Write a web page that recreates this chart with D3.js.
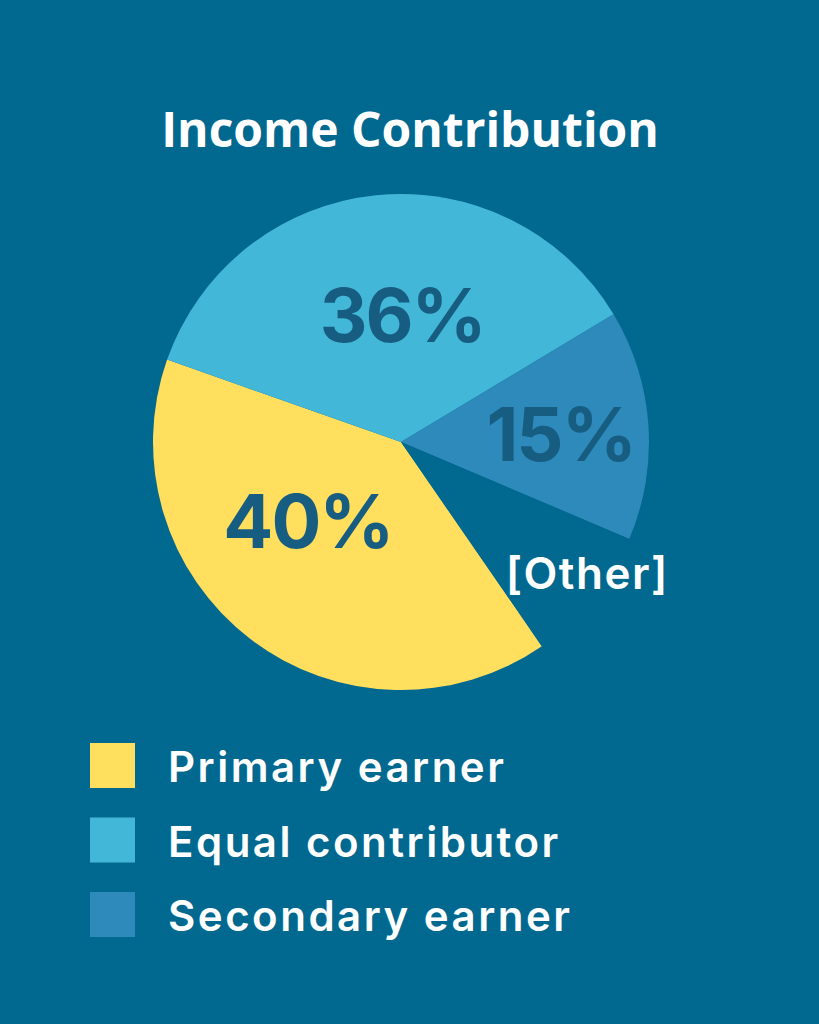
<!DOCTYPE html>
<html>
<head>
<meta charset="utf-8">
<script src="https://cdn.jsdelivr.net/npm/d3@7"></script>
<style>
  html, body { margin: 0; padding: 0; background: #01688f; }
  svg { display: block; }
</style>
</head>
<body>
<div id="chart"></div>
<script>
// data
var categories = ["Primary earner", "Equal contributor", "Secondary earner", "Other"];
var values = [40, 36, 15, 9];
var valueLabels = ["40%", "36%", "15%", "[Other]"];
var legendItems = ["Primary earner", "Equal contributor", "Secondary earner"];
var sliceColors = ["#ffdf5d", "#42b7d7", "#2e8aba", "#01688f"];

var width = 819, height = 1024;
var bg = "#01688f";
var cx = 401, cy = 442, radius = 248;
var startDeg = 145.4;
// small nudges to place each label like the original
var labelRadius = [122, 127, 160, 230];
var labelNudge = [[-19, -18], [14, 0], [0, 4], [8, -14]];

var svg = d3.select("#chart").append("svg")
    .attr("width", width)
    .attr("height", height);

svg.append("rect")
    .attr("width", width)
    .attr("height", height)
    .attr("fill", bg);

svg.append("text")
    .attr("x", 410)
    .attr("y", 147)
    .attr("text-anchor", "middle")
    .attr("fill", "#ffffff")
    .style("font-family", "'Open Sans', sans-serif")
    .style("font-weight", 700)
    .style("font-size", "48px")
    .text("Income Contribution");

var color = d3.scaleOrdinal().domain(categories).range(sliceColors);

var start = startDeg * Math.PI / 180;
var pie = d3.pie()
    .sort(null)
    .value(function(d) { return d; })
    .startAngle(start)
    .endAngle(start + 2 * Math.PI);

var arcs = pie(values);
var arc = d3.arc().innerRadius(0).outerRadius(radius);

var g = svg.append("g")
    .attr("transform", "translate(" + cx + "," + cy + ")");

g.selectAll("path.slice")
    .data(arcs)
    .enter().append("path")
    .attr("class", "slice")
    .attr("d", arc)
    .attr("fill", function(d, i) { return color(categories[i]); });

g.selectAll("text.val")
    .data(arcs)
    .enter().append("text")
    .attr("class", "val")
    .attr("transform", function(d, i) {
        var la = d3.arc().innerRadius(labelRadius[i]).outerRadius(labelRadius[i]);
        var c = la.centroid(d);
        return "translate(" + (c[0] + labelNudge[i][0]) + "," + (c[1] + labelNudge[i][1]) + ")";
    })
    .attr("dy", "0.36em")
    .attr("text-anchor", "middle")
    .attr("fill", function(d, i) { return i === 3 ? "#ffffff" : "#175d82"; })
    .style("font-family", "Inter, sans-serif")
    .style("font-weight", function(d, i) { return i === 3 ? 600 : 700; })
    .style("font-size", function(d, i) { return i === 3 ? "44px" : "74px"; })
    .style("letter-spacing", function(d, i) { return i === 3 ? "1.5px" : "-2px"; })
    .text(function(d, i) { return valueLabels[i]; });

// legend
var legendY = d3.scalePoint().domain(legendItems).range([743, 892]);

var lg = svg.append("g").selectAll("g")
    .data(legendItems)
    .enter().append("g")
    .attr("transform", function(d) { return "translate(90," + legendY(d) + ")"; });

lg.append("rect")
    .attr("width", 45)
    .attr("height", 45)
    .attr("fill", function(d) { return color(d); });

lg.append("text")
    .attr("x", 78)
    .attr("y", 39)
    .attr("fill", "#ffffff")
    .style("font-family", "Inter, sans-serif")
    .style("font-weight", 600)
    .style("font-size", "42px")
    .style("letter-spacing", "2.5px")
    .text(function(d) { return d; });
</script>
</body>
</html>
